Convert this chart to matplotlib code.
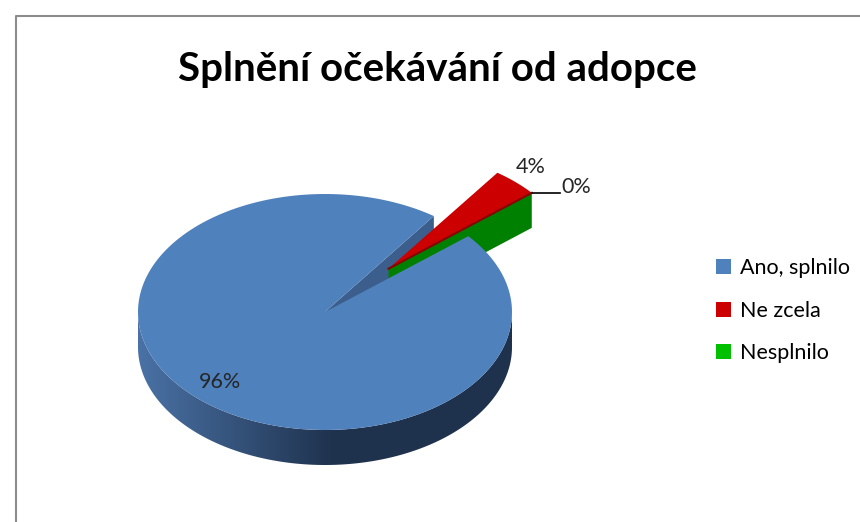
import matplotlib.pyplot as plt
import numpy as np
from matplotlib.patches import Polygon, Patch
from matplotlib.colors import to_rgb

plt.rcParams['font.family'] = ['Lato', 'DejaVu Sans']

# Data
kategorie = ["Ano, splnilo", "Ne zcela", "Nesplnilo"]
hodnoty = [96, 4, 0]
popisky = ["96%", "4%", "0%"]
barvy = ["#4F81BD", "#CC0000", "#00C000"]
titulek = "Splnění očekávání od adopce"

# Layout of the fake 3D pie (pixel space)
cx, cy = 325, 312
rx, ry = 187, 118
hloubka = 35
start = 40.0      # first slice starts here and goes clockwise
vysun = 0.5       # explode for the small slices

fig = plt.figure(figsize=(8.6, 5.22), dpi=100)
ax = fig.add_axes([0, 0, 1, 1])
ax.set_xlim(0, 860)
ax.set_ylim(522, 0)
ax.axis('off')


def bod(a, r=1.0, ox=0.0, oy=0.0, dz=0.0):
    t = np.radians(a)
    return (cx + ox + r * rx * np.cos(t), cy + oy - r * ry * np.sin(t) + dz)


def oblouk(a1, a2, ox=0.0, oy=0.0, dz=0.0, n=200):
    aa = np.linspace(a1, a2, n)
    return [bod(a, 1.0, ox, oy, dz) for a in aa]


# angles of each slice (clockwise)
celkem = sum(hodnoty)
uhly = []
a = start
for v in hodnoty:
    b = a - 360.0 * v / celkem
    uhly.append((a, b))
    a = b

# --- blue slice (big one) ---
a0, a1 = uhly[0]
# side wall on the front half with a left-to-right shading
bok = oblouk(180, 360) + oblouk(360, 180, dz=hloubka)
bok_patch = Polygon(bok, closed=True, fc="none", ec="none")
ax.add_patch(bok_patch)
svetla = np.array(to_rgb("#4A72A6"))
tmava = np.array(to_rgb("#1F324D"))
xs = np.linspace(cx - rx, cx + rx, 400)
f = np.clip((xs - (cx - rx)) / (rx * 1.05), 0, 1)[None, :, None]
grad = svetla * (1 - f) + tmava * f
im = ax.imshow(grad, extent=(cx - rx, cx + rx, cy + hloubka + ry + 2, cy - 2),
               aspect='auto', zorder=1, interpolation='bilinear')
im.set_clip_path(bok_patch)

# cut wall at the end edge (visible through the gap)
konec = a1 % 360
stena = [bod(0, 0), bod(konec), bod(konec, dz=hloubka), bod(0, 0, dz=hloubka)]
ax.add_patch(Polygon(stena, closed=True, fc="#3B5E8C", ec="none", zorder=2))

# --- green slice (zero size, only its wall shows) ---
g0, g1 = uhly[2]
stred = np.radians((uhly[1][0] + uhly[1][1]) / 2)
ox, oy = vysun * rx * np.cos(stred), -vysun * ry * np.sin(stred)
zelena = [bod(g0, 0, ox, oy), bod(g0, 1, ox, oy),
          bod(g0, 1, ox, oy, hloubka), bod(g0, 0, ox, oy, hloubka)]
ax.add_patch(Polygon(zelena, closed=True, fc="#008000", ec="none", zorder=3))

# blue top face
horni = [bod(0, 0)] + oblouk(a0, a1)
ax.add_patch(Polygon(horni, closed=True, fc=barvy[0], ec="none", zorder=4))

# --- red slice (exploded) ---
r0, r1 = uhly[1]
cervena = [bod(0, 0, ox, oy)] + oblouk(r0, r1, ox, oy, n=40)
ax.add_patch(Polygon(cervena, closed=True, fc=barvy[1], ec="none", zorder=5))
ax.plot(*zip(bod(0, 0, ox, oy), bod(r1, 1, ox, oy)), color="#8B0000", lw=1.5, zorder=5)

# labels
t = np.radians((a0 + a1) / 2)
ax.text(cx + 0.72 * rx * np.cos(t) - 14, cy - 0.72 * ry * np.sin(t) + 8, popisky[0],
        fontsize=15.5, ha='center', va='center', color="#262626", zorder=6)
t = stred
ax.text(cx + ox + 1.1 * rx * np.cos(t) + 2, cy + oy - 1.1 * ry * np.sin(t) - 6, popisky[1],
        fontsize=15.5, ha='center', va='center', color="#262626", zorder=6)
px, py = bod(g0, 1, ox, oy)
ax.plot([px, px + 28], [py, py], color="black", lw=1.2, zorder=6)
ax.text(px + 30, py - 6, popisky[2], fontsize=15.5, ha='left', va='center',
        color="#262626", zorder=6)

# title
ax.text(437, 69, titulek, fontsize=29, fontweight='bold', ha='center', va='center',
        color="black")

# chart frame
ax.plot([16, 16, 860], [522, 16, 16], color="#8C8C8C", lw=1.5, zorder=0)

# legend
ruce = [Patch(fc=c, ec='none') for c in barvy]
fig.legend(ruce, kategorie, loc='center left', bbox_to_anchor=(0.81, 0.405),
           frameon=False, fontsize=15.5, handlelength=0.7, handleheight=0.7,
           handletextpad=0.4, labelspacing=1.05)

fig.savefig("out.png", dpi=100)
